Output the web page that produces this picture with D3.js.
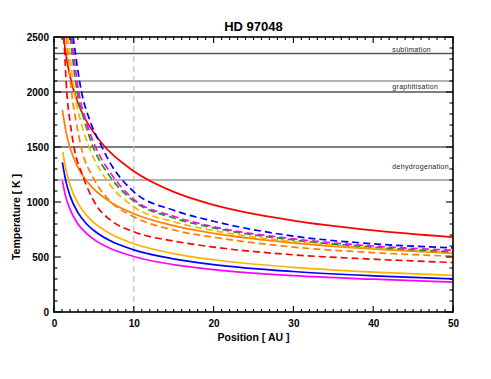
<!DOCTYPE html>
<html>
<head>
<meta charset="utf-8">
<script src="https://cdn.jsdelivr.net/npm/d3@7"></script>
<style>
  body { margin: 0; background: #fff; }
  text { font-family: "Liberation Sans", Arial, sans-serif; }
</style>
</head>
<body>
<svg id="chart"></svg>
<script>
// values: [position AU, temperature K]
const solidRed     = [[1.2,2500],[1.5,2340],[2,2145],[3,1900],[4,1745],[5,1630],[6.4,1500],[7,1455],[10,1280],[15,1092],[20,974],[30,831],[40,742],[50,680]];
const solidOrange  = [[1.05,1838],[1.5,1640],[2,1495],[3,1314],[4,1199],[5,1117],[7,1003],[10,894],[15,785],[20,715],[30,629],[40,573],[50,534]];
const solidYellow  = [[1.1,1455],[1.5,1294],[2,1157],[3,989],[4,885],[5,812],[7,713],[10,620],[15,531],[20,475],[30,406],[40,363],[50,332]];
const solidBlue    = [[1.05,1361],[1.5,1185],[2,1058],[3,903],[4,807],[5,741],[7,649],[10,565],[15,483],[20,431],[30,368],[40,329],[50,301]];
const solidMagenta = [[1.05,1190],[1.5,1040],[2,935],[3,800],[4,720],[5,660],[7,580],[10,505],[15,430],[20,385],[30,330],[40,298],[50,272]];

const dashBlue     = [[2.4,2500],[3.45,2000],[4.5,1740],[6,1500],[7,1360],[10,1093],[15,925],[20,825],[30,690],[40,620],[50,583]];
const dashMagenta  = [[2.2,2500],[3.1,2000],[4,1740],[5.2,1500],[7,1273],[10,1024],[15,870],[20,775],[30,665],[40,600],[50,562]];
const dashGreen    = [[2.05,2500],[2.9,2000],[3.8,1740],[4.9,1500],[7,1233],[10,1008],[15,855],[20,765],[30,655],[40,590],[50,547]];
const dashYellow   = [[1.76,2500],[2.55,2000],[3.4,1720],[4.4,1500],[7,1160],[10,957],[15,820],[20,740],[30,640],[40,580],[50,540]];
const dashOrange   = [[1.55,2500],[2.2,2000],[2.8,1720],[3.4,1500],[5,1210],[7,1010],[10,866],[15,745],[20,680],[30,590],[40,540],[50,507]];
const dashRed      = [[1.25,2500],[1.6,2000],[2,1735],[2.5,1500],[3.6,1240],[5.3,970],[7,840],[10,729],[15,645],[20,590],[30,520],[40,480],[50,450]];

const refTemps  = [2350, 2100, 2000, 1500, 1200];
const refLabels = ["sublimation", "graphitisation", "dehydrogenation"];
const markerPos = 10;
const xTicks = [0, 10, 20, 30, 40, 50];
const yTicks = [0, 500, 1000, 1500, 2000, 2500];
const chartTitle = "HD 97048";
const xTitle = "Position [ AU ]";
const yTitle = "Temperature [ K ]";

const width = 491, height = 379;
const margin = { top: 37, right: 38, bottom: 67, left: 54 };

const svg = d3.select("#chart").attr("width", width).attr("height", height);

const x = d3.scaleLinear().domain([0, 50]).range([margin.left, width - margin.right]);
const y = d3.scaleLinear().domain([0, 2500]).range([height - margin.bottom, margin.top]);

svg.append("clipPath").attr("id", "plot")
  .append("rect")
  .attr("x", x(0)).attr("y", y(2500))
  .attr("width", x(50) - x(0)).attr("height", y(0) - y(2500));

// reference temperature lines
const refColor = ["#555", "#999", "#555", "#555", "#999"];
svg.selectAll(".ref")
  .data(refTemps)
  .enter().append("line")
  .attr("x1", x(0)).attr("x2", x(50))
  .attr("y1", d => y(d)).attr("y2", d => y(d))
  .attr("stroke", (d, i) => refColor[i])
  .attr("stroke-width", 1.3);

const labelY = [y(refTemps[0]) - 2, (y(refTemps[1]) + y(refTemps[2])) / 2 + 2.5, (y(refTemps[3]) + y(refTemps[4])) / 2 + 5];
svg.selectAll(".reflabel")
  .data(refLabels)
  .enter().append("text")
  .attr("x", x(42.4))
  .attr("y", (d, i) => labelY[i])
  .attr("font-size", 7)
  .attr("letter-spacing", 0.3)
  .attr("fill", "#222")
  .text(d => d);

// vertical marker
svg.append("line")
  .attr("x1", x(markerPos)).attr("x2", x(markerPos))
  .attr("y1", y(0)).attr("y2", y(2500))
  .attr("stroke", "#bbb").attr("stroke-width", 1.2)
  .attr("stroke-dasharray", "6,4");

const series = [
  { pts: solidRed, color: "#ff0000", dash: null },
  { pts: solidOrange, color: "#ff7f00", dash: null },
  { pts: solidYellow, color: "#ffb000", dash: null },
  { pts: solidBlue, color: "#0000ff", dash: null },
  { pts: solidMagenta, color: "#ff00ff", dash: null },
  { pts: dashRed, color: "#ff0000", dash: "7,4" },
  { pts: dashOrange, color: "#ff7f00", dash: "7,4" },
  { pts: dashYellow, color: "#ffb000", dash: "7,4" },
  { pts: dashGreen, color: "#10a010", dash: "7,4" },
  { pts: dashMagenta, color: "#ff00ff", dash: "7,4" },
  { pts: dashBlue, color: "#0000ff", dash: "7,4" }
];

const line = d3.line()
  .x(d => x(d[0]))
  .y(d => y(d[1]))
  .curve(d3.curveMonotoneX);

svg.append("g").attr("clip-path", "url(#plot)")
  .selectAll("path")
  .data(series)
  .enter().append("path")
  .attr("d", d => line(d.pts))
  .attr("fill", "none")
  .attr("stroke", d => d.color)
  .attr("stroke-width", 1.7)
  .attr("stroke-dasharray", d => d.dash);

// axes: ticks on all four sides, pointing inward
const xMinor = d3.range(0, 51, 1);
const yMinor = d3.range(0, 2501, 100);

const bottom = svg.append("g").attr("transform", `translate(0,${y(0)})`)
  .call(d3.axisBottom(x).tickValues(xTicks).tickSize(0).tickPadding(8).tickFormat(d3.format("d")));
const left = svg.append("g").attr("transform", `translate(${x(0)},0)`)
  .call(d3.axisLeft(y).tickValues(yTicks).tickSize(0).tickPadding(5).tickFormat(d3.format("d")));
[bottom, left].forEach(g => {
  g.select(".domain").remove();
  g.selectAll("text").attr("font-size", 10).attr("font-weight", "bold").attr("fill", "#000")
    .attr("font-family", "'Liberation Sans', Arial, sans-serif");
});

const ticks = svg.append("g").attr("stroke", "#000").attr("stroke-width", 1.1);
xMinor.forEach(v => {
  const len = v % 10 === 0 ? 6 : 3;
  ticks.append("line").attr("x1", x(v)).attr("x2", x(v)).attr("y1", y(0)).attr("y2", y(0) - len);
  ticks.append("line").attr("x1", x(v)).attr("x2", x(v)).attr("y1", y(2500)).attr("y2", y(2500) + len);
});
yMinor.forEach(v => {
  const len = v % 500 === 0 ? 7 : 3.5;
  ticks.append("line").attr("y1", y(v)).attr("y2", y(v)).attr("x1", x(0)).attr("x2", x(0) + len);
  ticks.append("line").attr("y1", y(v)).attr("y2", y(v)).attr("x1", x(50)).attr("x2", x(50) - len);
});

svg.append("rect")
  .attr("x", x(0)).attr("y", y(2500))
  .attr("width", x(50) - x(0)).attr("height", y(0) - y(2500))
  .attr("fill", "none").attr("stroke", "#000").attr("stroke-width", 1.6);

svg.append("text")
  .attr("x", (x(0) + x(50)) / 2).attr("y", 31)
  .attr("text-anchor", "middle")
  .attr("font-size", 13).attr("font-weight", "bold")
  .text(chartTitle);

svg.append("text")
  .attr("x", (x(0) + x(50)) / 2).attr("y", 341)
  .attr("text-anchor", "middle")
  .attr("font-size", 10.5).attr("font-weight", "bold")
  .text(xTitle);

svg.append("text")
  .attr("transform", "translate(20,217) rotate(-90)")
  .attr("text-anchor", "middle")
  .attr("font-size", 10.5).attr("font-weight", "bold")
  .text(yTitle);
</script>
</body>
</html>
